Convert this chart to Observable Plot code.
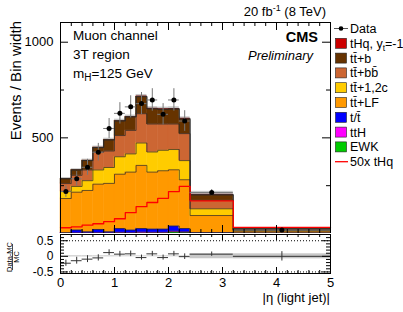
<!DOCTYPE html>
<html><head><meta charset="utf-8">
<script src="https://cdn.jsdelivr.net/npm/d3@7"></script>
<script src="https://cdn.jsdelivr.net/npm/@observablehq/plot@0.6"></script>
<style>
body{margin:0;background:#fff;}
#c{position:relative;width:403px;height:312px;overflow:hidden;font-family:"Liberation Sans",Arial,Helvetica,sans-serif;}
#c > svg{position:absolute;left:0;}
</style></head><body><div id="c"></div>
<script>
// bin edges in |eta(light jet)|
const binEdges = [0,0.2,0.4,0.6,0.8,1.0,1.2,1.4,1.6,1.8,2.0,2.2,2.4,3.2,5.0];
// stacked backgrounds (Events / Bin width), bottom-up
const ewk    = [1,1,1,1,1,2,1,2,2,2,7,5,1,0.5];
const ttH    = [1,2,2,3,2,4,3,5,4,4,5,4,1,0.5];
const tSingle= [2,15,6,17,6,20,14,19,17,17,27,17,3,2];
const ttLF   = [179,198,216,237,253,284,303,330,298,305,294,255,89,9];
const ttcc   = [37,30,51,74,83,91,95,117,105,107,106,100,35,4];
const ttbb   = [41,58,56,93,86,111,123,153,146,137,133,141,44,3];
const ttb    = [25,28,49,24,58,76,70,89,79,76,77,75,28,5];
const tHq    = [0.6,0.7,0.9,1.0,1.2,1.5,2.2,2.8,3.2,3.7,4.4,4.9,3.4,0.6];
const mcUnc  = [6,6,7,7,8,8,8,9,9,9,9,8,16,2];
// 50x tHq signal line
const tHq50  = [30,35,44,51,62,77,109,140,162,184,219,246,171,32];
// data
const dataVal = [219,286,346,425,549,628,662,679,698,623,698,588,214,18];
const dataErr = [30,38,42,46,52,56,58,58,59,56,59,54,16,3];
// ratio (Data-MC)/MC
const ratioVal = [-0.22,-0.14,-0.09,-0.05,0.12,0.07,0.08,-0.04,0.08,-0.04,0.08,-0.01,0.07,0.0];
const ratioErr = [0.10,0.11,0.11,0.10,0.09,0.09,0.09,0.08,0.08,0.08,0.08,0.09,0.07,0.15];
// tick values
const xMajor = [0,1,2,3,4,5];
const xMinor = [0.2,0.4,0.6,0.8,1.2,1.4,1.6,1.8,2.2,2.4,2.6,2.8,3.2,3.4,3.6,3.8,4.2,4.4,4.6,4.8];
const yMajor = [500,1000];
const yMinor = [250,750];
const rMajor = [-0.5,0,0.5];
const rMinor = [-0.4,-0.3,-0.2,-0.1,0.1,0.2,0.3,0.4,0.6];

const layers = [
  {name:"EWK", vals:ewk, color:"#00cc00"},
  {name:"ttH", vals:ttH, color:"#ff00ff"},
  {name:"t", vals:tSingle, color:"#0000ff"},
  {name:"ttLF", vals:ttLF, color:"#ff9900"},
  {name:"ttcc", vals:ttcc, color:"#ffcc00"},
  {name:"ttbb", vals:ttbb, color:"#cc6633"},
  {name:"ttb", vals:ttb, color:"#663300"},
  {name:"tHq", vals:tHq, color:"#cc0000"}
];
const nb = dataVal.length;
const rects = [];
const tops = layers.map(() => []);
const totals = [];
for (let i = 0; i < nb; i++) {
  let cum = 0;
  layers.forEach((L, j) => {
    const y1 = cum; cum += L.vals[i];
    rects.push({x1: binEdges[i], x2: binEdges[i+1], y1, y2: cum, color: L.color, name: L.name});
    tops[j].push(cum);
  });
  totals.push(cum);
}
const bins = d3.range(nb).map(i => ({
  x1: binEdges[i], x2: binEdges[i+1], xc: (binEdges[i]+binEdges[i+1])/2,
  tot: totals[i], unc: mcUnc[i], d: dataVal[i], e: dataErr[i],
  r: ratioVal[i], re: ratioErr[i], ru: mcUnc[i]/totals[i]
}));
function stepPts(arr) {
  const p = arr.map((v,i) => ({x: binEdges[i], y: v}));
  p.push({x: binEdges[nb], y: arr[nb-1]});
  return p;
}
const boundaryLines = tops.slice(0, 7).map(t =>
  Plot.line(stepPts(t), {x:"x", y:"y", curve:"step-after", stroke:"#2a2a2a", strokeWidth:0.7}));

const FW = 270, FH = 211, RH = 39;
const font = "Liberation Sans, Arial, Helvetica, sans-serif";

const main = Plot.plot({
  width: 403, height: 233,
  marginLeft: 60, marginRight: 73, marginTop: 22, marginBottom: 0,
  x: {domain: [0,5], axis: null},
  y: {domain: [0,1103], axis: null},
  style: {fontFamily: font, fontSize: "13px", background: "transparent"},
  marks: [
    Plot.rect(bins, {x1:"x1", x2:"x2", y1: d => d.tot - d.unc, y2: d => d.tot + d.unc, fill:"#c8c8c8"}),
    Plot.rect(rects.filter(r => r.name !== "tHq"), {x1:"x1", x2:"x2", y1:"y1", y2:"y2", fill: d => d.color, stroke: d => d.color, strokeWidth: 0.5}),
    Plot.rect(rects.filter(r => r.name === "tHq"), {x1:"x1", x2:"x2", y1:"y1", y2:"y2", fill: d => d.color}),
    ...boundaryLines,
    Plot.line(stepPts(totals), {x:"x", y:"y", curve:"step-after", stroke:"#2a2a2a", strokeWidth:0.8}),
    Plot.line(stepPts(tHq50), {x:"x", y:"y", curve:"step-after", stroke:"#ff0000", strokeWidth:1.3}),
    Plot.ruleY(bins, {y:"d", x1:"x1", x2:"x2", stroke:"#777", strokeWidth:1}),
    Plot.ruleX(bins, {x:"xc", y1: d => d.d - d.e, y2: d => d.d + d.e, stroke:"#777", strokeWidth:1}),
    Plot.dot(bins, {x:"xc", y:"d", r:2.5, fill:"black", stroke:null}),
    Plot.tickX(xMajor, {x: d => d, insetTop: FH-8, stroke:"black"}),
    Plot.tickX(xMinor, {x: d => d, insetTop: FH-4, stroke:"black"}),
    Plot.tickX(xMajor, {x: d => d, insetBottom: FH-8, stroke:"black"}),
    Plot.tickX(xMinor, {x: d => d, insetBottom: FH-4, stroke:"black"}),
    Plot.tickY(yMajor, {y: d => d, insetRight: FW-8, stroke:"black"}),
    Plot.tickY(yMinor, {y: d => d, insetRight: FW-4, stroke:"black"}),
    Plot.tickY(yMajor, {y: d => d, insetLeft: FW-8, stroke:"black"}),
    Plot.tickY(yMinor, {y: d => d, insetLeft: FW-4, stroke:"black"}),
    Plot.axisY(yMajor, {tickSize:0, tickPadding:7, fontSize:13, label:null, tickFormat: d => String(d)}),
    Plot.frame({stroke:"black"})
  ]
});
main.style.top = "0px";

const ratio = Plot.plot({
  width: 403, height: 79,
  marginLeft: 60, marginRight: 73, marginTop: 1, marginBottom: 39,
  x: {domain: [0,5], axis: null},
  y: {domain: [-0.55,0.7], axis: null},
  style: {fontFamily: font, fontSize: "13px", background: "transparent"},
  marks: [
    Plot.rect(bins, {x1:"x1", x2:"x2", y1: d => -d.ru, y2: d => d.ru, fill:"#c8c8c8"}),
    Plot.ruleY([0.5,-0.5], {y: d => d, stroke:"black", strokeDasharray:"1,2", strokeWidth:1}),
    Plot.ruleY(bins, {y:"r", x1:"x1", x2:"x2", stroke:"#333", strokeWidth:1}),
    Plot.ruleX(bins, {x:"xc", y1: d => d.r - d.re, y2: d => d.r + d.re, stroke:"#333", strokeWidth:1}),
    Plot.tickX(xMajor, {x: d => d, insetTop: RH-6, stroke:"black"}),
    Plot.tickX(xMinor, {x: d => d, insetTop: RH-3, stroke:"black"}),
    Plot.tickX(xMajor, {x: d => d, insetBottom: RH-6, stroke:"black"}),
    Plot.tickX(xMinor, {x: d => d, insetBottom: RH-3, stroke:"black"}),
    Plot.tickY(rMajor, {y: d => d, insetRight: FW-8, stroke:"black"}),
    Plot.tickY(rMinor, {y: d => d, insetRight: FW-4, stroke:"black"}),
    Plot.tickY(rMajor, {y: d => d, insetLeft: FW-8, stroke:"black"}),
    Plot.tickY(rMinor, {y: d => d, insetLeft: FW-4, stroke:"black"}),
    Plot.axisY(rMajor, {tickSize:0, tickPadding:7, fontSize:12, label:null, tickFormat: d => String(d)}),
    Plot.axisX(xMajor, {tickSize:0, tickPadding:4, fontSize:13, label:null, tickFormat: d => String(d)}),
    Plot.frame({stroke:"black"})
  ]
});
ratio.style.top = "233px";

const c = document.getElementById("c");
c.appendChild(main);
c.appendChild(ratio);

// text, labels and legend
const legendItems = [
  {kind:"data", label:"Data"},
  {kind:"box", color:"#cc0000", label:'tHq, y<tspan dy="3" font-size="8.5">t</tspan><tspan dy="-3">=-1</tspan>'},
  {kind:"box", color:"#663300", label:"tt\u0304+b"},
  {kind:"box", color:"#cc6633", label:"tt\u0304+bb\u0304"},
  {kind:"box", color:"#ffcc00", label:"tt\u0304+1,2c"},
  {kind:"box", color:"#ff9900", label:"tt\u0304+LF"},
  {kind:"box", color:"#0000ff", label:"t/t\u0304"},
  {kind:"box", color:"#ff00ff", label:"ttH"},
  {kind:"box", color:"#00cc00", label:"EWK"},
  {kind:"line", color:"#ff0000", label:"50x tHq"}
];
let leg = "";
legendItems.forEach((it, i) => {
  const yc = 28.5 + 14.8*i;
  if (it.kind === "data") {
    leg += `<line x1="334" x2="348" y1="${yc}" y2="${yc}" stroke="#555" stroke-width="1"/><circle cx="341" cy="${yc}" r="2.3" fill="black"/>`;
  } else if (it.kind === "box") {
    leg += `<rect x="335.5" y="${yc-5}" width="11" height="10" fill="${it.color}" stroke="#222" stroke-width="0.6"/>`;
  } else {
    leg += `<line x1="335" x2="348" y1="${yc}" y2="${yc}" stroke="${it.color}" stroke-width="1.3"/>`;
  }
  leg += `<text x="350" y="${yc+4.5}" font-size="12.5">${it.label}</text>`;
});

const ov = `<svg xmlns="http://www.w3.org/2000/svg" width="403" height="312" style="position:absolute;left:0;top:0;font-family:${font}" fill="black">
<text x="326" y="16" text-anchor="end" font-size="13">20 fb<tspan dy="-5" font-size="9">-1</tspan><tspan dy="5"> (8 TeV)</tspan></text>
<text x="318" y="42" text-anchor="end" font-size="14.5" font-weight="bold">CMS</text>
<text x="313" y="60" text-anchor="end" font-size="13" font-style="italic">Preliminary</text>
<text x="73" y="40" font-size="13.5">Muon channel</text>
<text x="73" y="59" font-size="13.5">3T region</text>
<text x="73" y="77.5" font-size="13.5">m<tspan dy="3" font-size="10">H</tspan><tspan dy="-3">=125 GeV</tspan></text>
<text transform="translate(20.5,21) rotate(-90)" text-anchor="end" font-size="15">Events / Bin width</text>
<text transform="translate(11.5,257) rotate(-90)" text-anchor="middle" font-size="7.5">Data-MC</text>
<line x1="12.5" x2="12.5" y1="244" y2="270" stroke="black" stroke-width="0.7"/>
<text transform="translate(18.5,257) rotate(-90)" text-anchor="middle" font-size="7.5">MC</text>
<text x="330" y="302" text-anchor="end" font-size="13">|η (light jet)|</text>
${leg}
</svg>`;
c.insertAdjacentHTML("beforeend", ov);
</script>
</body></html>
